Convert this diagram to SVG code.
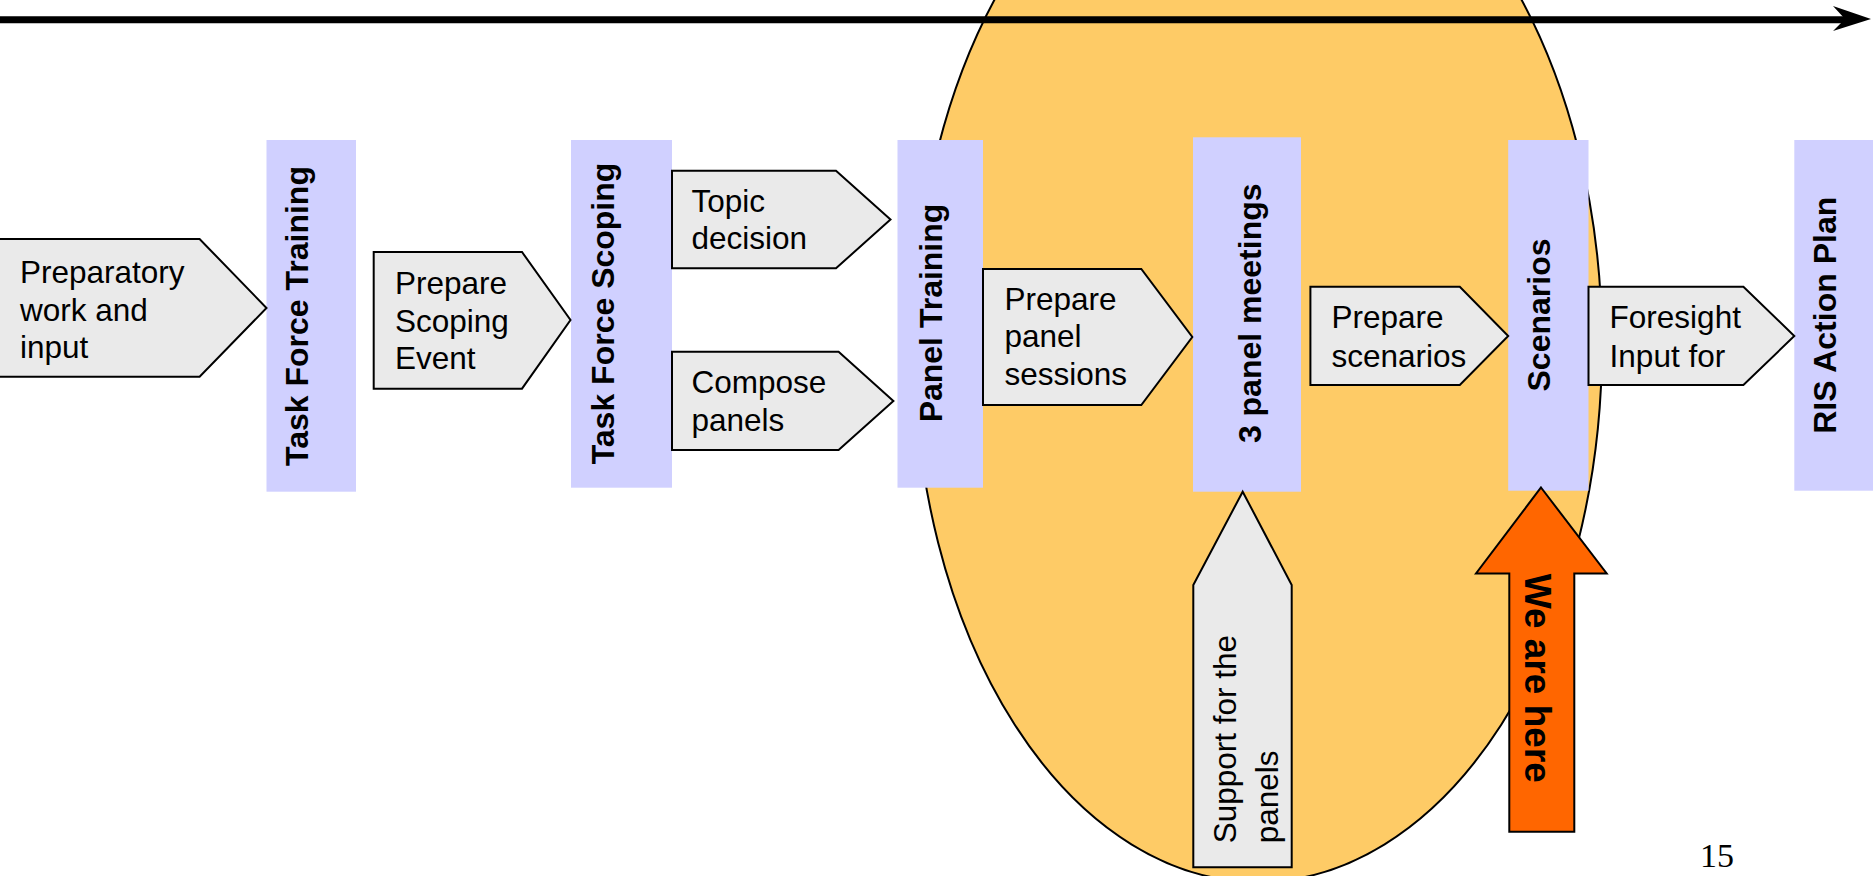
<svg xmlns="http://www.w3.org/2000/svg" width="1873" height="876" viewBox="0 0 1873 876">
<style>
.bar{fill:#D0D0FF;stroke:none}
.box{fill:#EAEAEA;stroke:#000;stroke-width:2;stroke-linejoin:miter}
.t{font-family:"Liberation Sans",Arial,sans-serif;font-size:31.5px;fill:#000}
.v{font-family:"Liberation Sans",Arial,sans-serif;font-size:32px;font-weight:bold;fill:#000;text-anchor:middle}
</style>
<rect x="0" y="0" width="1873" height="876" fill="#FFFFFF"/>
<g id="focus-ellipse">
<ellipse cx="1258" cy="345" rx="344" ry="537" fill="#FECB66" stroke="#000" stroke-width="2"/>
</g>
<g id="connectors">
<line x1="0" y1="19.7" x2="1845" y2="19.7" stroke="#000" stroke-width="7"/>
<path d="M1871,19 L1833,6 L1845,19 L1833,31 Z" fill="#000"/>
</g>
<g id="task-force-training">
<rect class="bar" x="266.5" y="140" width="89.5" height="351.7"/>
<text class="v" transform="translate(307.5,316) rotate(-90)">Task Force Training</text>
</g>
<g id="task-force-scoping">
<rect class="bar" x="571" y="140" width="101" height="347.7"/>
<text class="v" transform="translate(614,313.5) rotate(-90)">Task Force Scoping</text>
</g>
<g id="panel-training">
<rect class="bar" x="897.5" y="140" width="85.5" height="347.7"/>
<text class="v" transform="translate(942,313) rotate(-90)">Panel Training</text>
</g>
<g id="panel-meetings">
<rect class="bar" x="1193" y="137.3" width="108" height="354.4"/>
<text class="v" transform="translate(1261,313.3) rotate(-90)">3 panel meetings</text>
</g>
<g id="scenarios">
<rect class="bar" x="1508.2" y="140" width="80.3" height="350.7"/>
<text class="v" transform="translate(1550,315) rotate(-90)">Scenarios</text>
</g>
<g id="ris-action-plan">
<rect class="bar" x="1794.3" y="140" width="80" height="350.7"/>
<text class="v" transform="translate(1836,315.3) rotate(-90)">RIS Action Plan</text>
</g>
<g id="preparatory-work">
<path class="box" d="M-1,239 L199.6,239 L266.5,308 L199.6,376.7 L-1,376.7 Z"/>
<text class="t"><tspan x="20" y="283.3">Preparatory</tspan><tspan x="20" y="320.5">work and</tspan><tspan x="20" y="358">input</tspan></text>
</g>
<g id="prepare-scoping-event">
<path class="box" d="M373.7,252 L522,252 L570.5,320 L522,388.7 L373.7,388.7 Z"/>
<text class="t"><tspan x="395" y="294.3">Prepare</tspan><tspan x="395" y="331.8">Scoping</tspan><tspan x="395" y="369.3">Event</tspan></text>
</g>
<g id="topic-decision">
<path class="box" d="M672,170.7 L836,170.7 L890.5,219.5 L836,268.3 L672,268.3 Z"/>
<text class="t"><tspan x="691.5" y="211.7">Topic</tspan><tspan x="691.5" y="249.3">decision</tspan></text>
</g>
<g id="compose-panels">
<path class="box" d="M672,351.7 L838.6,351.7 L893.4,401 L838.6,450 L672,450 Z"/>
<text class="t"><tspan x="691.5" y="393.3">Compose</tspan><tspan x="691.5" y="430.5">panels</tspan></text>
</g>
<g id="prepare-panel-sessions">
<path class="box" d="M983,269 L1141.3,269 L1192.3,337 L1141.3,405 L983,405 Z"/>
<text class="t"><tspan x="1004.5" y="310">Prepare</tspan><tspan x="1004.5" y="347.3">panel</tspan><tspan x="1004.5" y="385">sessions</tspan></text>
</g>
<g id="prepare-scenarios">
<path class="box" d="M1310.4,286.7 L1459.8,286.7 L1508.2,336 L1459.8,385 L1310.4,385 Z"/>
<text class="t"><tspan x="1331.4" y="328.3">Prepare</tspan><tspan x="1331.4" y="366.7">scenarios</tspan></text>
</g>
<g id="foresight-input">
<path class="box" d="M1588.5,286.7 L1743.4,286.7 L1794.3,336 L1743.4,385 L1588.5,385 Z"/>
<text class="t"><tspan x="1609.6" y="328.3">Foresight</tspan><tspan x="1609.6" y="366.7">Input for</tspan></text>
</g>
<g id="support-panels">
<path class="box" d="M1242.7,491.7 L1291.7,585 L1291.7,867.3 L1193.3,867.3 L1193.3,585 Z"/>
<text class="t" transform="translate(1236,843.3) rotate(-90)"><tspan x="0" y="0">Support for the</tspan><tspan x="0" y="42">panels</tspan></text>
</g>
<g id="we-are-here">
<path d="M1541,487.5 L1606.7,573.5 L1574.3,573.5 L1574.3,831.7 L1509.3,831.7 L1509.3,573.5 L1476,573.5 Z" fill="#FF6600" stroke="#000" stroke-width="2"/>
<text transform="translate(1525,678.3) rotate(90)" text-anchor="middle" font-family="Liberation Sans, Arial, sans-serif" font-size="37" font-weight="bold" fill="#000">We are here</text>
</g>
<g id="page-number">
<text x="1700" y="866.7" font-family="Liberation Serif, Times New Roman, serif" font-size="34" fill="#000">15</text>
</g>
</svg>
